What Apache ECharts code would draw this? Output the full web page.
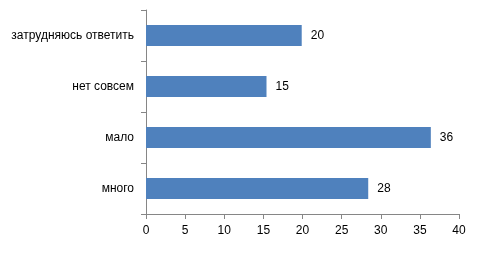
<!DOCTYPE html>
<html><head><meta charset="utf-8">
<script src="https://cdn.jsdelivr.net/npm/echarts@6/dist/echarts.min.js"></script>
<style>html,body{margin:0;padding:0;background:#fff}#c{width:484px;height:258px}</style>
</head><body><div id="c"></div>
<script>
var categories = ['много', 'мало', 'нет совсем', 'затрудняюсь ответить'];
var values = [28.4, 36.4, 15.4, 19.9];
var labels = [28, 36, 15, 20];
var xTicks = [0, 5, 10, 15, 20, 25, 30, 35, 40];

var chart = echarts.init(document.getElementById('c'));
var font = 'Liberation Sans, Arial, sans-serif';
chart.setOption({
  animation: false,
  grid: {left: 146, right: 25, top: 10, bottom: 44},
  xAxis: {
    type: 'value', min: xTicks[0], max: xTicks[xTicks.length - 1], interval: 5,
    axisLine: {show: true, lineStyle: {color: '#868686'}},
    axisTick: {show: true, length: 5, lineStyle: {color: '#868686'}},
    splitLine: {show: false},
    axisLabel: {color: '#000', fontSize: 12, fontFamily: font, margin: 11}
  },
  yAxis: {
    type: 'category', data: categories,
    axisLine: {show: true, lineStyle: {color: '#868686'}},
    axisTick: {show: true, length: 5, alignWithLabel: false, lineStyle: {color: '#868686'}},
    axisLabel: {color: '#000', fontSize: 12, fontFamily: font, margin: 12}
  },
  series: [{
    type: 'bar', data: values, barWidth: 21,
    itemStyle: {color: '#4F81BD'},
    label: {show: true, position: 'right', distance: 9, color: '#000', fontSize: 12, fontFamily: font,
      formatter: function (p) { return labels[p.dataIndex]; }}
  }]
});
</script></body></html>
